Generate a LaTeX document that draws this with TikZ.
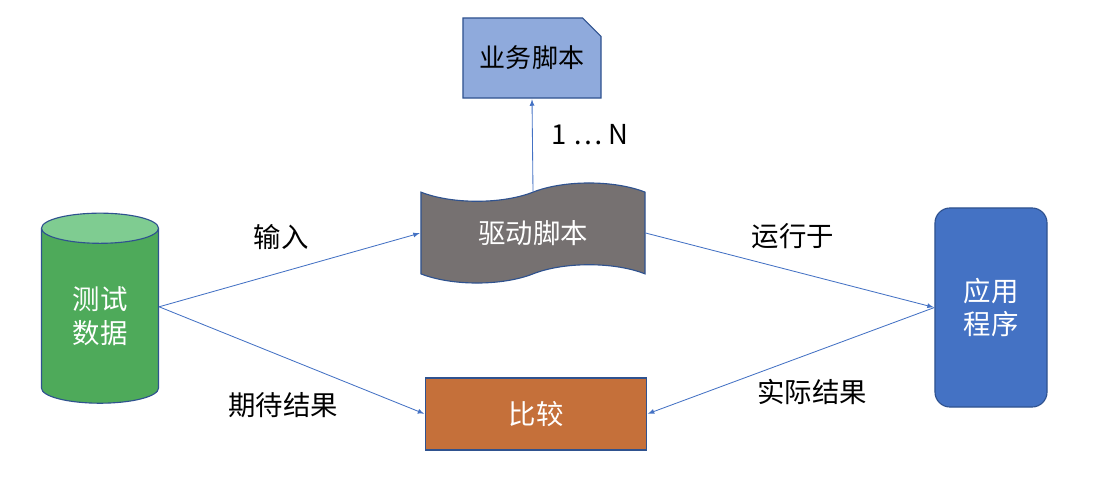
\documentclass[tikz,border=0pt]{standalone}
\usepackage{fontspec}
\setmainfont{Noto Sans CJK SC}
\usepackage{tikz}
\usetikzlibrary{shapes.geometric,shapes.symbols,shapes.misc}
\tikzset{>=latex}
\definecolor{edgeblue}{RGB}{68,114,196}
\definecolor{borderblue}{RGB}{47,82,143}
\definecolor{scriptblue}{RGB}{143,170,220}
\definecolor{drivergray}{RGB}{118,113,113}
\definecolor{datagreen}{RGB}{78,170,90}
\definecolor{datatop}{RGB}{127,204,145}
\definecolor{appblue}{RGB}{68,114,196}
\definecolor{cmporange}{RGB}{197,112,58}
\tikzset{
  box/.style={draw=borderblue, line width=0.8pt, font=\fontsize{19.5}{24}\selectfont, align=center, inner sep=0pt},
  link/.style={->, draw=edgeblue, line width=0.6pt, shorten >=0.5pt},
  lbl/.style={font=\fontsize{19.5}{24}\selectfont}
}

\begin{document}
\begin{tikzpicture}[x=0.025cm, y=-0.025cm]
\useasboundingbox (0,0) rectangle (1098,480);
\node (script) at (532,58) [box, chamfered rectangle, chamfered rectangle corners=north east, chamfered rectangle xsep=0.23cm, chamfered rectangle ysep=0.23cm, fill=scriptblue, font=\fontsize{18.5}{22}\selectfont, minimum width=3.45cm, minimum height=2cm] {业务脚本};
\node (driver) at (533,233) [box, tape, tape bend height=13pt, fill=drivergray, text=white, minimum width=5.6cm, minimum height=2.5cm] {驱动脚本};
\node (data) at (100,316) [box, cylinder, shape border rotate=90, aspect=0.55, cylinder uses custom fill, cylinder body fill=datagreen, cylinder end fill=datatop, text=white, minimum width=2.925cm, minimum height=4.75cm] {测试\\数据};
\node (app) at (991,307.5) [box, rectangle, rounded corners=0.375cm, fill=appblue, text=white, minimum width=2.8cm, minimum height=4.975cm] {应用\\程序};
\node (compare) at (536,414) [box, rectangle, fill=cmporange, text=white, minimum width=5.525cm, minimum height=1.8cm] {比较};
\coordinate (dataout) at ([yshift=0.23cm]data.east);
\draw[link] (driver.north) -- (script.south);
\draw[link] (dataout) -- (driver.west);
\draw[link] (dataout) -- (compare.west);
\draw[link] (driver.east) -- (app.west);
\draw[link] (app.west) -- (compare.east);
\node (many) at (590,135) [lbl] {1 … N};
\node (input) at (281,237) [lbl] {输入};
\node (expect) at (283,405) [lbl] {期待结果};
\node (runs) at (793,236) [lbl] {运行于};
\node (actual) at (812,392) [lbl] {实际结果};
\end{tikzpicture}
\end{document}
